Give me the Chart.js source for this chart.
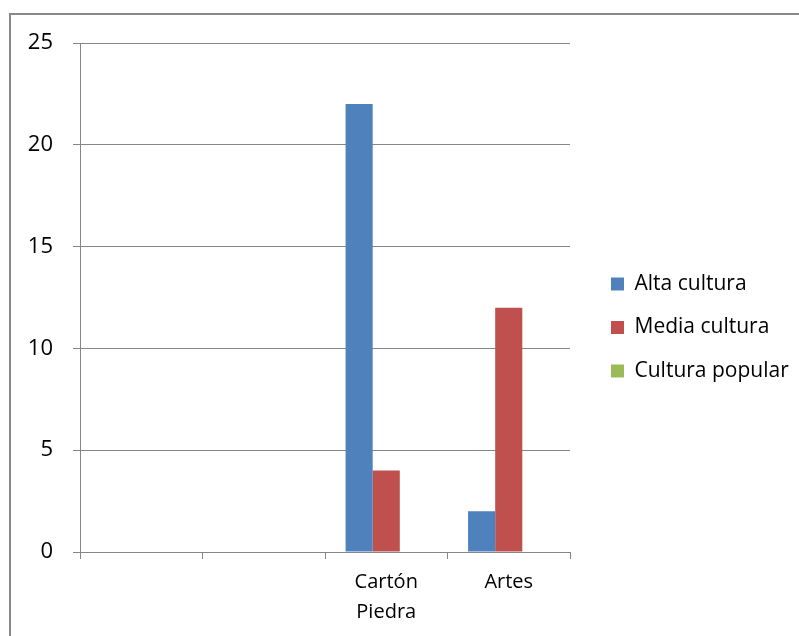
<!DOCTYPE html>
<html lang="es">
<head>
    <meta charset="UTF-8">
    <title>Cultura</title>
    <script src="https://cdn.jsdelivr.net/npm/chart.js"></script>
    <style>
        html, body {
            margin: 0;
            padding: 0;
            background: #fff;
            overflow: hidden;
        }
        .marco {
            position: absolute;
            left: 9px;
            top: 13px;
            width: 900px;
            height: 800px;
            border: 2px solid #898989;
        }
        canvas {
            position: absolute;
            left: 0;
            top: 0;
        }
    </style>
</head>
<body>
    <div class="marco"></div>
    <canvas id="grafica" width="799" height="636"></canvas>

    <script>
        // Categorías (las dos primeras vienen vacías en el original)
        const categorias = ['', '', ['Cartón', 'Piedra'], 'Artes'];

        // Series
        const altaCultura = [null, null, 22, 2];
        const mediaCultura = [null, null, 4, 12];
        const culturaPopular = [null, null, 0, 0];

        // Eje Y
        const yMin = 0;
        const yMax = 25;
        const yPaso = 5;

        const gris = '#868686';
        const familia = '"Open Sans", sans-serif';

        // coloca la leyenda como en Excel (algo más a la derecha y arriba)
        const moverLeyenda = {
            id: 'moverLeyenda',
            afterLayout(chart) {
                const lg = chart.legend;
                if (!lg) return;
                lg.left += 18.5;
                lg.right = chart.width;
                lg.top -= 12;
                lg.bottom -= 12;
            }
        };

        const ctx = document.getElementById('grafica').getContext('2d');

        new Chart(ctx, {
            type: 'bar',
            data: {
                labels: categorias,
                datasets: [
                    { label: 'Alta cultura', data: altaCultura, backgroundColor: '#4F81BD' },
                    { label: 'Media cultura', data: mediaCultura, backgroundColor: '#C0504D' },
                    { label: 'Cultura popular', data: culturaPopular, backgroundColor: '#9BBB59' }
                ]
            },
            options: {
                responsive: false,
                animation: false,
                layout: {
                    padding: { top: 43, left: 0, right: 39, bottom: 0 }
                },
                datasets: {
                    bar: {
                        categoryPercentage: 0.664,
                        barPercentage: 1
                    }
                },
                scales: {
                    x: {
                        offset: true,
                        grid: {
                            offset: true,
                            drawOnChartArea: false,
                            tickLength: 7,
                            color: gris
                        },
                        border: { color: gris, width: 1 },
                        ticks: {
                            color: '#000',
                            font: { family: familia, size: 20, lineHeight: 1.47 },
                            padding: 9,
                            maxRotation: 0,
                            autoSkip: false
                        },
                        afterFit(scale) { scale.height = 84; }
                    },
                    y: {
                        min: yMin,
                        max: yMax,
                        ticks: {
                            stepSize: yPaso,
                            color: '#000',
                            font: { family: familia, size: 22 },
                            padding: 20
                        },
                        grid: {
                            color: gris,
                            tickLength: 7
                        },
                        border: { color: gris, width: 1 },
                        afterFit(scale) { scale.width = 80; }
                    }
                },
                plugins: {
                    legend: {
                        position: 'right',
                        labels: {
                            boxWidth: 13,
                            boxHeight: 13,
                            padding: 22.5,
                            color: '#000',
                            font: { family: familia, size: 21 }
                        }
                    },
                    tooltip: { enabled: false }
                }
            },
            plugins: [moverLeyenda]
        });
    </script>
</body>
</html>
